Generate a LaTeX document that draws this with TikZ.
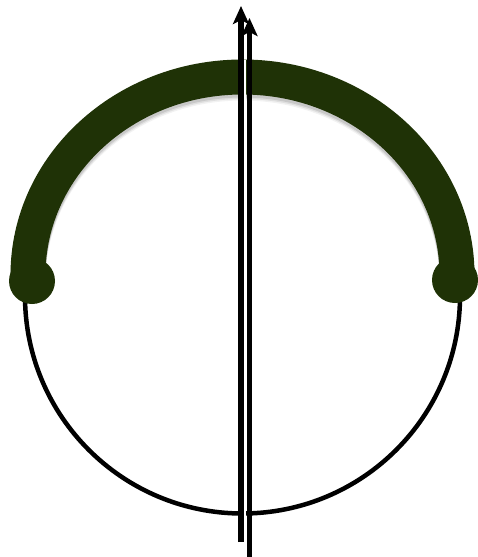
\documentclass[tikz,border=0pt]{standalone}
\usetikzlibrary{arrows.meta}
\definecolor{darkgreen}{RGB}{31,50,6}
\begin{document}
\begin{tikzpicture}[x=1pt,y=-1pt,
  ring/.style={line width=4.5pt,black},
  band/.style={line width=35pt,darkgreen},
  endcap/.style={fill=darkgreen},
  shaft/.style={line width=5.5pt,black,-{Stealth[length=18pt,width=16pt,inset=4pt]}}]
\useasboundingbox (0,0) rectangle (477,557);
% circle
\draw[ring] (242.5,296) circle (217.5);
% soft shadow of band
\foreach \o/\a in {6/0.05,4.5/0.08,3/0.1}{
  \draw[line width=35pt,black,opacity=\a] (28,275+\o) arc[start angle=180,end angle=360,x radius=214.5,y radius=198];
}
% thick band
\draw[band] (28,275) arc[start angle=180,end angle=360,x radius=214.5,y radius=198];
\fill[endcap] (32,281) circle (23);
\fill[endcap] (455,280) circle (23);
% arrows
\coordinate (a1s) at (241,542);
\coordinate (a1e) at (241,6);
\coordinate (a2s) at (249.5,557);
\coordinate (a2e) at (249.5,18);
\draw[shaft] (a1s) -- (a1e);
\draw[white,line width=1.5pt] (245.2,540) -- (245.2,60);
\draw[shaft] (a2s) -- (a2e);
\end{tikzpicture}
\end{document}
